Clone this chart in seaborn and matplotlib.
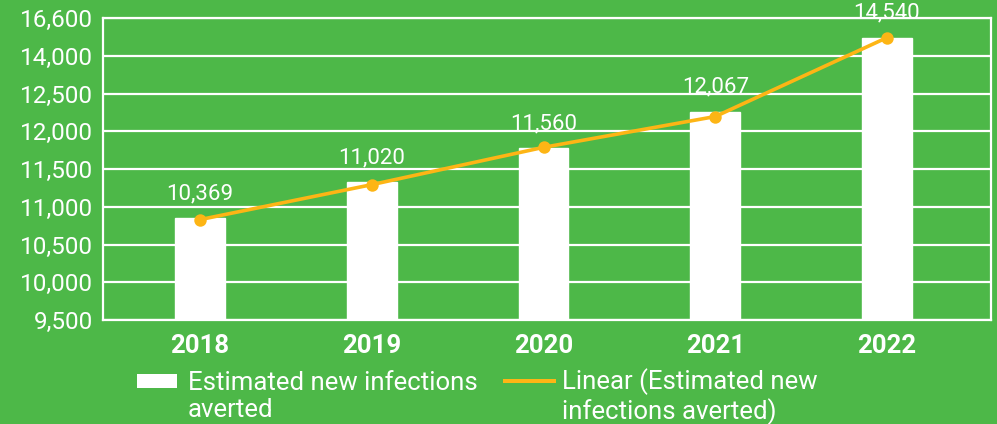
import numpy as np
import pandas as pd
import seaborn as sns
import matplotlib.pyplot as plt
from matplotlib.patches import Patch, Rectangle
from matplotlib.legend_handler import HandlerPatch

years = ["2018", "2019", "2020", "2021", "2022"]
bar_values = [10853, 11324, 11778, 12258, 13240]
line_values = [10830, 11293, 11787, 12195, 13240]
value_labels = ["10,369", "11,020", "11,560", "12,067", "14,540"]
ytick_values = [9500, 10000, 10500, 11000, 11500, 12000, 12500, 13000, 13500]
ytick_labels = ["9,500", "10,000", "10,500", "11,000", "11,500",
                "12,000", "12,500", "14,000", "16,600"]

green = "#4DB848"
orange = "#FDB515"

sns.set_style("white")
plt.rcParams['font.family'] = ['Roboto', 'DejaVu Sans']

df = pd.DataFrame({"Year": years, "Bars": bar_values, "Line": line_values})

fig = plt.figure(figsize=(9.97, 4.24), dpi=100, facecolor=green)
ax = fig.add_axes([103 / 997, 1 - 320 / 424, 888 / 997, 302 / 424])
ax.set_facecolor(green)

sns.barplot(data=df, x="Year", y="Bars", color="white", saturation=1,
            width=0.29, ax=ax, zorder=2)
sns.pointplot(data=df, x="Year", y="Line", color=orange, markers="o",
              markersize=7, linewidth=2.6, ax=ax, zorder=3)

for i, (v, lab) in enumerate(zip(bar_values, value_labels)):
    ax.annotate(lab, (i, v), xytext=(0, 10), textcoords="offset points",
                ha="center", va="bottom", color="white", fontsize=16,
                zorder=4)

ax.set_ylim(9500, 13500)
ax.set_xlim(-0.566, 4.606)
ax.set_yticks(ytick_values)
ax.set_yticklabels(ytick_labels)
ax.yaxis.grid(True, color="white", linewidth=1.6)
ax.set_axisbelow(True)
ax.tick_params(axis="y", length=0, pad=7, colors="white", labelsize=17.5)
ax.tick_params(axis="x", length=0, pad=10, colors="white", labelsize=18.5)
for t in ax.get_xticklabels():
    t.set_fontweight("bold")
ax.set_xlabel("")
ax.set_ylabel("")
for s in ax.spines.values():
    s.set_color("white")
    s.set_linewidth(1.6)


# legend keys sit next to the first text line, like the original
def bar_key(legend, orig_handle, xdescent, ydescent, width, height, fontsize):
    return Rectangle((-xdescent, -ydescent + 12), 28.8, 10)


def line_key(legend, orig_handle, xdescent, ydescent, width, height, fontsize):
    return Rectangle((-xdescent - 5.8, -ydescent + 16), 38.2, 2.5)


bar_handle = Patch(facecolor="white", edgecolor="none")
line_handle = Patch(facecolor=orange, edgecolor="none")
labels = ["Estimated new infections\naverted",
          "Linear (Estimated new\ninfections averted)"]
leg = fig.legend([bar_handle, line_handle], labels, loc="upper left",
                 bbox_to_anchor=(137 / 997, 1 - 368 / 424), ncol=2,
                 frameon=False, fontsize=18.5, handlelength=1.75,
                 handleheight=0.55, handletextpad=0.23, columnspacing=1.3,
                 borderpad=0, borderaxespad=0, labelspacing=0.1,
                 handler_map={bar_handle: HandlerPatch(patch_func=bar_key),
                              line_handle: HandlerPatch(patch_func=line_key)})
for t in leg.get_texts():
    t.set_color("white")
    t.set_linespacing(1.18)

fig.savefig("out.png", dpi=100, facecolor=green)
